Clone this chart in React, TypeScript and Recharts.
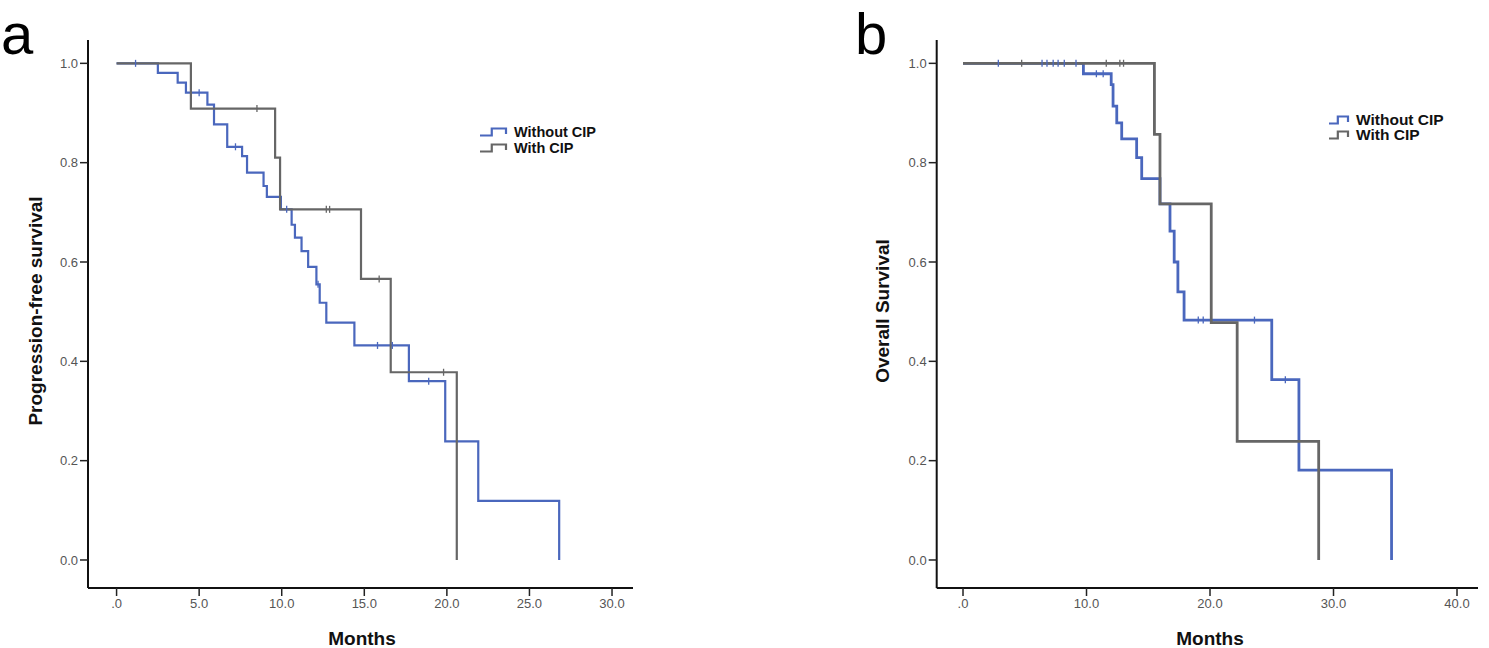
import React from 'react';
import { LineChart, Line, XAxis, YAxis, Legend } from 'recharts';

type Pt = { t: number; s: number };

// Progression-free survival (panel a) — event steps
const pfsWithout: Pt[] = [
  { t: 0, s: 1 }, { t: 2.5, s: 0.981 }, { t: 3.7, s: 0.961 }, { t: 4.2, s: 0.941 },
  { t: 5.5, s: 0.917 }, { t: 5.9, s: 0.877 }, { t: 6.7, s: 0.832 }, { t: 7.6, s: 0.813 },
  { t: 7.9, s: 0.78 }, { t: 8.9, s: 0.753 }, { t: 9.1, s: 0.731 }, { t: 9.95, s: 0.706 },
  { t: 10.6, s: 0.675 }, { t: 10.8, s: 0.649 }, { t: 11.2, s: 0.622 }, { t: 11.6, s: 0.59 },
  { t: 12.1, s: 0.555 }, { t: 12.3, s: 0.518 }, { t: 12.7, s: 0.478 }, { t: 14.4, s: 0.432 },
  { t: 17.7, s: 0.36 }, { t: 19.9, s: 0.239 }, { t: 21.9, s: 0.119 }, { t: 26.8, s: 0 },
];
const pfsWithoutCensored = [1.15, 5.0, 7.2, 10.3, 12.2, 15.8, 16.7, 18.9];

const pfsWith: Pt[] = [
  { t: 0, s: 1 }, { t: 4.5, s: 0.909 }, { t: 9.6, s: 0.81 }, { t: 9.9, s: 0.706 },
  { t: 14.8, s: 0.566 }, { t: 16.6, s: 0.378 }, { t: 20.6, s: 0 },
];
const pfsWithCensored = [8.5, 12.7, 12.9, 15.9, 19.8];

// Overall survival (panel b)
const osWithout: Pt[] = [
  { t: 0, s: 1 }, { t: 9.75, s: 0.979 }, { t: 12.0, s: 0.957 }, { t: 12.15, s: 0.914 },
  { t: 12.45, s: 0.88 }, { t: 12.85, s: 0.848 }, { t: 14.06, s: 0.81 }, { t: 14.47, s: 0.768 },
  { t: 15.95, s: 0.717 }, { t: 16.76, s: 0.662 }, { t: 17.1, s: 0.6 }, { t: 17.4, s: 0.54 },
  { t: 17.9, s: 0.483 }, { t: 25.0, s: 0.363 }, { t: 27.2, s: 0.181 }, { t: 34.7, s: 0 },
];
const osWithoutCensored = [2.86, 6.4, 6.8, 7.3, 7.7, 8.2, 9.15, 10.8, 11.35, 19.05, 19.45, 23.6, 26.1];

const osWith: Pt[] = [
  { t: 0, s: 1 }, { t: 15.5, s: 0.857 }, { t: 15.95, s: 0.717 }, { t: 20.1, s: 0.478 },
  { t: 22.2, s: 0.239 }, { t: 28.8, s: 0 },
];
const osWithCensored = [4.75, 11.6, 12.7, 13.0];

const groups = ['Without CIP', 'With CIP'];
const yTicks = [0, 0.2, 0.4, 0.6, 0.8, 1.0];
const pfsXTicks = [0, 5, 10, 15, 20, 25, 30];
const osXTicks = [0, 10, 20, 30, 40];

const BLUE = '#4a67bd';
const GRAY = '#666666';
const FONT = '"Liberation Sans", Arial, sans-serif';

const survivalAt = (events: Pt[], t: number) => {
  let s = 1;
  for (const e of events) if (e.t <= t) s = e.s;
  return s;
};

const buildCurve = (events: Pt[], censored: number[]) =>
  [
    ...events.map((e) => ({ t: e.t, s: e.s, c: false })),
    ...censored.map((t) => ({ t, s: survivalAt(events, t), c: true })),
  ].sort((a, b) => a.t - b.t);

const censorDot = (color: string) => (props: any) => {
  const { cx, cy, payload, index } = props;
  if (!payload || !payload.c) return <g key={`n${index}`} />;
  return (
    <line key={`c${index}`} x1={cx} x2={cx} y1={cy - 3.5} y2={cy + 3.5} stroke={color} strokeWidth={1.3} />
  );
};

const StepLegend = ({ payload, fontSize, iconW, rowH }: any) => {
  const items = [...(payload || [])].sort((a: any, b: any) => groups.indexOf(a.value) - groups.indexOf(b.value));
  return (
    <div style={{ fontFamily: FONT, fontWeight: 700, fontSize, color: '#111' }}>
      {items.map((p: any) => (
        <div key={p.value} style={{ display: 'flex', alignItems: 'center', height: rowH }}>
          <svg width={iconW} height={10} style={{ marginRight: 6 }}>
            <path
              d={`M0,8.5 H${iconW * 0.42} V1.5 H${iconW - 2} V7`}
              fill="none"
              stroke={p.color}
              strokeWidth={2.2}
            />
          </svg>
          <span>{p.value}</span>
        </div>
      ))}
    </div>
  );
};

const fmtX = (v: number) => (v === 0 ? '.0' : v.toFixed(1));
const fmtY = (v: number) => v.toFixed(1);

const tickStyle = { fill: '#555', fontSize: 13, fontFamily: FONT };

interface KMProps {
  width: number;
  margin: { top: number; right: number; bottom: number; left: number };
  xDomain: [number, number];
  xTicks: number[];
  without: Pt[];
  withoutC: number[];
  withC: Pt[];
  withCC: number[];
  strokeW: number;
  legendPos: { left: number; top: number };
  legendFont: number;
  legendIcon: number;
  legendRow: number;
}

const KMChart = (p: KMProps) => (
  <LineChart width={p.width} height={648} margin={p.margin}>
    <XAxis
      type="number"
      dataKey="t"
      domain={p.xDomain}
      ticks={p.xTicks}
      allowDataOverflow
      interval={0}
      tickFormatter={fmtX}
      height={30}
      tickSize={8}
      tickMargin={3}
      axisLine={{ stroke: '#111', strokeWidth: 2 }}
      tickLine={{ stroke: '#222', strokeWidth: 1.5 }}
      tick={tickStyle}
    />
    <YAxis
      type="number"
      dataKey="s"
      domain={[-0.0564, 1.047]}
      ticks={yTicks}
      allowDataOverflow
      interval={0}
      tickFormatter={fmtY}
      width={50}
      tickSize={8}
      tickMargin={2}
      axisLine={{ stroke: '#111', strokeWidth: 2 }}
      tickLine={{ stroke: '#222', strokeWidth: 1.5 }}
      tick={tickStyle}
    />
    <Legend
      layout="vertical"
      verticalAlign="middle"
      align="center"
      wrapperStyle={{ left: p.legendPos.left, top: p.legendPos.top, width: 'auto' }}
      content={(props: any) => (
        <StepLegend {...props} fontSize={p.legendFont} iconW={p.legendIcon} rowH={p.legendRow} />
      )}
    />
    <Line
      data={buildCurve(p.without, p.withoutC)}
      type="stepAfter"
      dataKey="s"
      name={groups[0]}
      stroke={BLUE}
      strokeWidth={p.strokeW}
      dot={censorDot(BLUE)}
      activeDot={false}
      isAnimationActive={false}
    />
    <Line
      data={buildCurve(p.withC, p.withCC)}
      type="stepAfter"
      dataKey="s"
      name={groups[1]}
      stroke={GRAY}
      strokeWidth={p.strokeW}
      dot={censorDot(GRAY)}
      activeDot={false}
      isAnimationActive={false}
    />
  </LineChart>
);

const abs = (left: number, top: number, extra: React.CSSProperties = {}): React.CSSProperties => ({
  position: 'absolute',
  left,
  top,
  ...extra,
});

const axisTitle: React.CSSProperties = {
  fontFamily: FONT,
  fontWeight: 700,
  fontSize: 19,
  color: '#111',
  whiteSpace: 'nowrap',
  lineHeight: 1,
};

const panelLetter: React.CSSProperties = { fontFamily: FONT, fontSize: 58, lineHeight: 'normal', color: '#000' };

export default function App() {
  return (
    <div style={{ position: 'absolute', left: 0, top: 0, width: 1489, height: 648, background: '#fff', overflow: 'hidden' }}>
      {/* panel a */}
      <div style={abs(0, 0)}>
        <KMChart
          width={650}
          margin={{ top: 40, right: 17, bottom: 30, left: 38 }}
          xDomain={[-1.73, 31.27]}
          xTicks={pfsXTicks}
          without={pfsWithout}
          withoutC={pfsWithoutCensored}
          withC={pfsWith}
          withCC={pfsWithCensored}
          strokeW={2.2}
          legendPos={{ left: 480, top: 124 }}
          legendFont={14.5}
          legendIcon={28}
          legendRow={16}
        />
      </div>
      {/* panel b */}
      <div style={abs(850, 0)}>
        <KMChart
          width={639}
          margin={{ top: 40, right: 11, bottom: 30, left: 36.7 }}
          xDomain={[-2.13, 41.7]}
          xTicks={osXTicks}
          without={osWithout}
          withoutC={osWithoutCensored}
          withC={osWith}
          withCC={osWithCensored}
          strokeW={2.8}
          legendPos={{ left: 479, top: 112 }}
          legendFont={15.5}
          legendIcon={21}
          legendRow={15}
        />
      </div>

      <div style={abs(1, 0, panelLetter)}>a</div>
      <div style={abs(855, 0, panelLetter)}>b</div>

      <div style={abs(35, 311, { ...axisTitle, transform: 'translate(-50%, -50%) rotate(-90deg)' })}>
        Progression-free survival
      </div>
      <div style={abs(362, 638, { ...axisTitle, transform: 'translate(-50%, -50%)' })}>Months</div>

      <div style={abs(882, 311, { ...axisTitle, transform: 'translate(-50%, -50%) rotate(-90deg)' })}>
        Overall Survival
      </div>
      <div style={abs(1210, 638, { ...axisTitle, transform: 'translate(-50%, -50%)' })}>Months</div>
    </div>
  );
}
